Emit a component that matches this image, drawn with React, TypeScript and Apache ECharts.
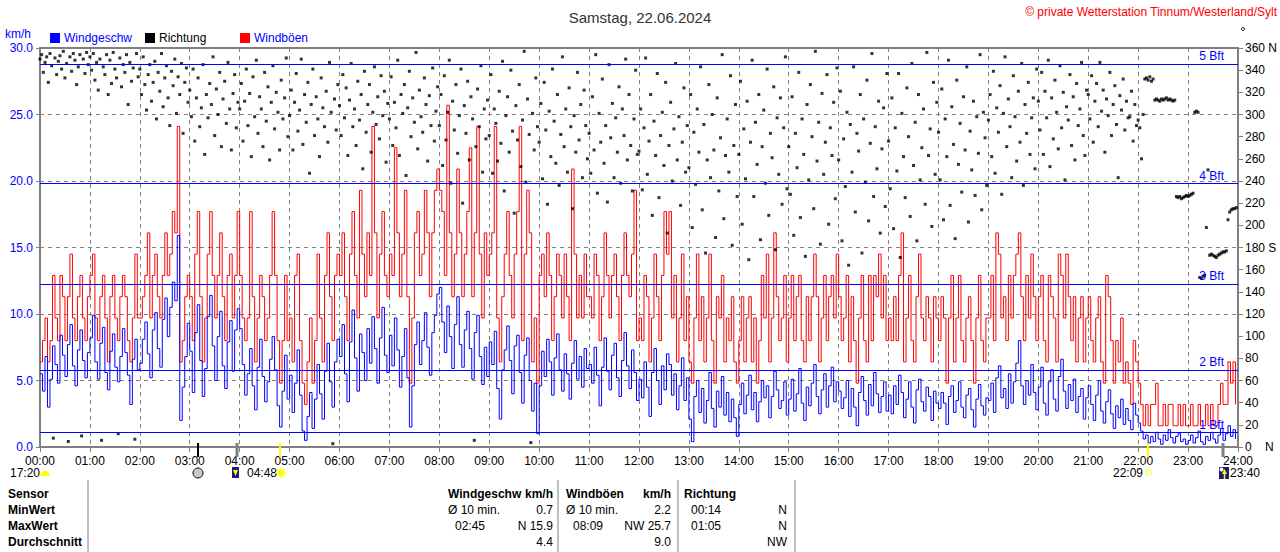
import React, { useEffect, useRef } from "react";
import * as echarts from "echarts";

// sampling step of the series (minutes)
const SPEED_STEP_MIN = 3;
const DIR_STEP_MIN = 2;

// Windgeschwindigkeit km/h (3-min samples, 20 per hour)
const speedKmh = [
  5.5,4.2,6.8,3.0,5.1,7.6,6.2,4.8,8.4,6.9,5.3,7.7,9.2,6.1,4.6,7.3,8.8,6.5,5.2,7.1,
  8.2,9.9,6.4,5.1,7.8,9.0,5.6,4.3,7.2,8.5,6.0,4.9,6.8,8.9,7.1,5.4,3.2,6.6,8.1,5.8,
  6.3,8.1,9.4,7.0,5.2,8.8,10.1,7.4,6.0,9.6,11.2,8.3,10.5,12.4,11.0,15.9,2.0,4.5,6.8,9.3,
  7.2,4.1,8.6,10.7,6.5,3.8,5.9,9.8,11.4,7.6,5.0,8.3,10.2,6.1,4.4,7.9,9.5,5.7,8.8,10.4,
  8.9,6.2,3.9,5.5,7.4,4.6,2.8,6.0,8.1,5.3,3.4,4.9,6.6,8.3,5.8,3.1,1.5,4.2,6.9,3.6,
  5.4,2.6,4.8,7.3,3.9,1.2,0.5,2.3,4.1,1.4,3.6,6.2,4.0,2.1,5.7,7.8,4.9,3.0,6.4,8.1,
  6.8,9.2,5.5,3.4,7.9,10.3,6.7,4.2,8.5,7.1,5.0,8.9,6.3,9.8,7.4,4.8,8.2,10.5,6.9,5.6,
  8.4,6.1,9.7,7.3,4.5,6.8,8.9,5.2,1.5,4.6,7.7,9.4,6.2,8.0,10.1,7.5,5.4,8.6,9.9,11.5,
  12.0,9.4,7.1,10.6,8.3,5.9,9.2,11.3,7.7,6.0,8.8,10.2,7.4,5.1,8.6,9.9,6.8,4.7,7.5,5.3,
  7.9,6.2,8.7,4.4,2.1,5.8,7.3,9.1,6.5,4.0,7.6,8.4,5.6,3.3,6.9,8.2,5.0,2.7,4.8,1.0,
  4.6,7.2,5.3,8.1,6.4,3.9,6.7,8.5,5.8,4.2,7.0,5.5,3.6,6.3,8.0,5.1,6.8,4.5,7.4,5.9,
  6.2,4.8,7.5,5.4,3.1,6.0,8.2,5.7,4.3,6.9,7.8,5.2,3.8,6.5,8.6,6.1,4.4,7.3,5.6,3.5,
  5.1,3.7,6.4,4.5,2.3,5.6,7.4,5.0,3.2,6.1,4.3,7.0,6.2,3.9,5.5,2.8,4.6,6.7,3.5,5.2,
  2.1,0.4,3.8,5.0,2.6,4.4,1.8,3.5,5.6,2.9,1.5,4.2,3.0,5.3,2.4,4.1,1.9,3.6,2.2,0.8,
  3.2,4.8,2.5,3.9,5.4,2.8,4.1,1.9,3.4,5.0,3.7,4.6,2.2,3.8,5.7,4.3,2.9,3.5,4.9,2.4,
  3.6,5.1,2.7,4.0,5.9,3.3,2.0,4.5,3.1,4.8,6.2,3.8,2.5,4.3,5.5,3.0,4.6,6.0,3.4,4.9,
  4.2,2.9,3.7,5.0,2.3,4.4,3.0,1.6,4.1,5.3,3.5,2.4,4.7,3.1,5.6,4.0,2.6,3.8,4.9,2.7,
  3.9,2.5,4.6,3.2,5.4,4.1,2.2,3.6,4.9,3.0,1.8,4.3,5.1,3.4,2.7,4.5,3.8,2.0,4.2,3.3,
  2.9,4.1,3.3,1.7,3.8,4.6,2.6,3.5,4.9,3.0,2.2,3.9,4.4,2.8,1.5,3.6,4.7,3.1,2.4,3.7,
  3.5,4.8,2.6,5.2,6.1,3.7,4.4,2.9,5.5,3.3,4.9,6.3,8.0,4.6,3.2,5.0,3.9,6.2,4.1,2.8,
  4.5,6.0,3.3,2.4,4.9,5.8,3.6,2.7,5.3,6.6,4.2,2.9,4.7,3.5,5.1,2.6,3.8,4.4,2.1,3.7,
  4.6,3.2,2.0,3.9,5.0,2.7,1.8,3.4,4.3,2.5,1.4,3.1,2.2,3.6,1.7,2.9,2.0,1.3,3.3,2.4,
  1.8,1.2,0.6,0.9,0.3,0.8,0.4,1.1,0.6,0.2,0.9,0.5,1.3,0.7,0.3,0.8,1.0,0.4,0.6,0.2,
  0.5,0.9,0.3,0.7,1.2,0.4,0.2,0.8,0.5,1.1,0.6,0.3,0.9,1.4,0.5,1.0,1.6,0.8,1.3,0.6,
];

// Windböen km/h (3-min samples)
const gustKmh = [
  6.4,8.0,9.7,6.4,8.0,12.9,9.7,8.0,12.9,11.3,8.0,11.3,14.5,9.7,8.0,11.3,12.9,9.7,8.0,11.3,
  12.9,14.5,9.7,8.0,11.3,12.9,9.7,6.4,11.3,12.9,9.7,8.0,11.3,12.9,11.3,8.0,6.4,9.7,14.5,9.7,
  9.7,11.3,12.9,16.1,9.7,12.9,14.5,11.3,9.7,12.9,16.1,12.9,14.5,17.7,16.1,24.1,6.4,8.0,11.3,12.9,
  11.3,8.0,14.5,17.7,11.3,6.4,9.7,14.5,17.7,12.9,9.7,12.9,16.1,11.3,8.0,12.9,14.5,9.7,12.9,17.7,
  12.9,9.7,8.0,9.7,17.7,11.3,6.4,9.7,12.9,11.3,8.0,9.7,12.9,17.7,12.9,8.0,4.8,8.0,12.9,8.0,
  9.7,6.4,12.9,14.5,8.0,4.8,3.2,6.4,9.7,4.8,8.0,14.5,9.7,6.4,12.9,16.1,11.3,8.0,12.9,14.5,
  12.9,16.1,11.3,8.0,14.5,17.7,12.9,9.7,19.3,14.5,11.3,16.1,12.9,24.1,16.1,9.7,14.5,17.7,12.9,11.3,
  14.5,12.9,22.5,16.1,11.3,14.5,19.3,11.3,4.8,9.7,16.1,17.7,12.9,14.5,19.3,16.1,11.3,16.1,19.3,20.9,
  19.3,17.7,12.9,25.7,16.1,11.3,14.5,20.9,16.1,11.3,14.5,17.7,22.5,11.3,16.1,24.1,14.5,9.7,16.1,12.9,
  14.5,16.1,24.1,9.7,6.4,11.3,14.5,17.7,12.9,9.7,14.5,17.7,24.1,8.0,14.5,19.3,16.1,6.4,9.7,4.8,
  12.9,14.5,11.3,16.1,12.9,8.0,11.3,14.5,12.9,9.7,14.5,11.3,8.0,20.9,14.5,9.7,12.9,9.7,14.5,11.3,
  11.3,9.7,14.5,12.9,8.0,11.3,16.1,12.9,9.7,12.9,14.5,11.3,8.0,12.9,16.1,12.9,11.3,14.5,19.3,8.0,
  9.7,8.0,12.9,11.3,6.4,9.7,14.5,11.3,8.0,12.9,17.7,14.5,17.7,9.7,12.9,6.4,9.7,14.5,8.0,11.3,
  6.4,4.8,9.7,14.5,8.0,11.3,6.4,9.7,14.5,8.0,4.8,11.3,9.7,12.9,6.4,9.7,8.0,11.3,6.4,4.8,
  8.0,11.3,6.4,9.7,11.3,6.4,9.7,4.8,8.0,12.9,9.7,14.5,6.4,9.7,16.1,11.3,8.0,9.7,12.9,6.4,
  9.7,12.9,8.0,11.3,12.9,8.0,6.4,11.3,8.0,11.3,14.5,11.3,6.4,9.7,12.9,8.0,11.3,12.9,9.7,14.5,
  11.3,8.0,9.7,12.9,6.4,11.3,8.0,4.8,9.7,12.9,8.0,6.4,12.9,8.0,12.9,11.3,14.5,9.7,12.9,8.0,
  9.7,8.0,11.3,8.0,12.9,16.1,6.4,9.7,12.9,8.0,6.4,11.3,14.5,9.7,8.0,11.3,9.7,6.4,11.3,9.7,
  8.0,11.3,9.7,4.8,9.7,12.9,6.4,9.7,12.9,8.0,6.4,9.7,11.3,8.0,4.8,9.7,12.9,8.0,6.4,9.7,
  9.7,12.9,8.0,16.1,14.5,9.7,11.3,8.0,12.9,9.7,12.9,14.5,16.1,11.3,8.0,12.9,9.7,14.5,11.3,8.0,
  11.3,12.9,8.0,6.4,12.9,11.3,9.7,6.4,14.5,12.9,9.7,14.5,11.3,8.0,11.3,6.4,9.7,11.3,6.4,9.7,
  11.3,8.0,6.4,9.7,11.3,6.4,4.8,12.9,11.3,8.0,4.8,8.0,6.4,9.7,4.8,6.4,4.8,3.2,8.0,6.4,
  4.8,3.2,1.6,3.2,1.6,3.2,3.2,4.8,1.6,1.6,3.2,1.6,3.2,3.2,1.6,1.6,3.2,1.6,3.2,1.6,
  1.6,3.2,1.6,1.6,3.2,1.6,1.6,3.2,1.6,3.2,1.6,1.6,3.2,4.8,3.2,3.2,6.4,4.8,6.4,3.2,
];

// Richtung in Grad (2-min samples, 30 per hour)
const directionDeg = [
  350,354,338,347,352,329,355,344,8,351,336,348,353,341,357,333,346,5,352,339,355,349,327,343,354,10,350,337,356,345,
  352,340,355,331,347,322,350,6,343,336,354,318,349,328,356,341,333,12,351,325,345,338,354,309,347,330,342,7,355,334,
  341,318,352,327,304,336,345,312,329,348,296,338,321,355,307,333,344,315,290,339,326,350,301,334,318,346,283,329,342,311,
  322,298,341,276,315,333,289,306,345,264,318,297,328,309,352,281,323,300,338,271,314,330,292,347,305,268,319,336,288,311,
  305,328,276,312,341,290,319,262,334,298,349,283,316,305,271,338,294,325,259,311,344,287,320,302,268,331,296,315,351,280,
  299,322,268,311,337,285,304,350,273,318,293,329,247,309,341,281,316,296,262,333,306,289,321,275,347,302,3,314,286,327,
  308,281,336,297,324,263,313,346,289,305,272,330,295,318,251,339,284,309,327,266,302,343,291,316,278,335,299,321,257,310,
  296,334,272,311,288,349,263,318,301,327,245,306,339,280,315,293,356,269,322,298,284,333,309,258,317,290,342,276,303,325,
  290,318,254,335,277,302,349,238,312,286,327,265,299,341,220,308,283,330,259,316,296,6,271,323,289,344,248,305,278,313,
  281,336,247,305,292,258,321,274,348,231,299,316,266,340,285,211,308,277,327,253,295,357,239,314,282,4,301,268,333,289,
  275,310,242,329,286,219,303,262,341,294,256,318,236,282,352,271,305,248,324,289,215,299,266,338,277,309,243,322,290,260,
  283,247,316,268,354,229,301,275,332,256,290,221,345,279,310,243,297,266,325,238,305,281,350,259,318,272,231,296,340,264,
  267,305,232,288,351,246,276,318,209,294,263,337,225,281,302,254,329,193,272,311,240,287,346,259,298,218,275,324,248,290,
  252,318,198,284,237,305,266,343,214,291,175,259,327,243,300,268,189,315,231,279,354,206,263,296,248,335,182,272,309,226,
  264,330,201,287,242,312,169,275,349,226,293,255,318,187,271,304,238,341,209,283,261,325,178,297,246,315,219,288,352,233,
  271,228,316,191,283,252,338,207,296,264,172,309,241,327,280,215,357,258,293,183,319,246,275,336,201,288,263,311,224,342,
  259,321,186,278,235,302,164,291,248,343,212,283,267,318,175,296,239,331,204,274,355,226,289,251,312,193,269,306,217,337,
  276,233,315,197,288,249,337,171,301,262,225,324,280,208,346,254,293,186,318,241,270,305,219,356,263,287,199,329,246,311,
  284,241,323,205,296,262,349,218,307,273,188,331,255,292,230,316,268,343,203,285,250,312,227,298,265,354,214,302,279,236,
  295,318,262,339,247,306,284,326,228,301,352,271,314,289,243,335,298,258,321,275,346,236,309,283,329,264,297,315,251,341,
  312,286,338,264,321,297,349,253,315,278,331,302,269,344,288,320,241,307,295,336,272,316,259,328,290,305,347,281,263,322,
  318,296,335,275,312,328,289,347,303,322,266,314,299,338,281,309,326,291,243,317,304,332,286,312,297,298,321,276,309,290,
  295,288,260,300,332,333,331,334,330,332,313,314,313,312,314,313,314,315,313,314,313,312,313,226,225,226,224,225,226,227,
  226,227,228,229,302,303,302,153,152,154,155,198,250,173,174,173,172,171,173,174,175,176,176,177,205,212,214,215,215,216,
];

const bftLevels = [1.08, 5.76, 12.24, 19.8, 28.8];
const bftLabels = ["1 Bft", "2 Bft", "3 Bft", "4 Bft", "5 Bft"];
const hourLabels = Array.from({ length: 25 }, (_, h) => String(h).padStart(2, "0") + ":00");
const dirSpecialLabels: Record<number, string> = { 360: "360 N", 180: "180 S", 0: "0    N" };

const titleText = "Samstag, 22.06.2024";
const copyrightText = "© private Wetterstation Tinnum/Westerland/Sylt";

// statistics table
const tableRowLabels = ["Sensor", "MinWert", "MaxWert", "Durchschnitt"];

const FONT = '"Liberation Sans", Arial, Helvetica, sans-serif';
const BLUE = "#0000ff";
const RED = "#ff0000";
const GRAY = "#808080";

function txt(text: string, x: number, y: number, o: any = {}) {
  return {
    type: "text",
    x,
    y,
    z: 100,
    style: {
      text,
      font: `${o.bold ? "bold " : ""}${o.size || 12}px ${FONT}`,
      fill: o.color || "#000",
      align: o.align || "left",
      verticalAlign: "middle",
    },
  };
}

function vline(x: number, y1: number, y2: number, color: string, w: number) {
  return { type: "line", z: 100, shape: { x1: x, y1, x2: x, y2 }, style: { stroke: color, lineWidth: w } };
}

export default function App() {
  const ref = useRef<HTMLDivElement>(null);

  useEffect(() => {
    if (!ref.current) return;
    const chart = echarts.init(ref.current, undefined, { renderer: "svg" });

    const rows = [494, 510, 526, 542];
    const graphic: any[] = [
      // legend
      { type: "rect", z: 100, shape: { x: 50, y: 33, width: 10, height: 10 }, style: { fill: BLUE } },
      txt("Windgeschw", 64, 38, { color: BLUE }),
      { type: "rect", z: 100, shape: { x: 145, y: 33, width: 10, height: 10 }, style: { fill: "#000" } },
      txt("Richtung", 159, 38),
      { type: "rect", z: 100, shape: { x: 240, y: 33, width: 10, height: 10 }, style: { fill: RED } },
      txt("Windböen", 254, 38, { color: BLUE }),
      txt("km/h", 5, 34, { color: BLUE }),
      txt(copyrightText, 1277, 12, { color: RED, align: "right" }),
      { type: "circle", z: 100, shape: { cx: 1243, cy: 29, r: 1.5 }, style: { fill: "none", stroke: "#000", lineWidth: 1 } },

      // astronomical markers below the time axis
      vline(198, 443, 457, "#000", 2),
      vline(237, 443, 457, GRAY, 3),
      vline(280, 443, 457, "#ffff00", 2),
      vline(1148, 443, 457, "#ffff00", 2),
      vline(1223, 443, 457, GRAY, 3),
      txt("17:20", 10, 473),
      { type: "sector", z: 100, shape: { cx: 45, cy: 476, r0: 0, r: 5, startAngle: Math.PI, endAngle: Math.PI * 2 }, style: { fill: "#ffff00" } },
      { type: "circle", z: 100, shape: { cx: 198, cy: 473, r: 5 }, style: { fill: "#c8c8c8", stroke: "#000", lineWidth: 1 } },
      { type: "rect", z: 100, shape: { x: 232, y: 467, width: 7, height: 11 }, style: { fill: "#1c1c80" } },
      { type: "polygon", z: 101, shape: { points: [[233, 470], [238, 470], [235.5, 476]] }, style: { fill: "#ffff00" } },
      txt("04:48", 247, 473),
      { type: "line", z: 100, shape: { x1: 275, y1: 473, x2: 287, y2: 473 }, style: { stroke: "#ffff00", lineWidth: 1 } },
      { type: "line", z: 100, shape: { x1: 281, y1: 467, x2: 281, y2: 479 }, style: { stroke: "#ffff00", lineWidth: 1 } },
      { type: "line", z: 100, shape: { x1: 277, y1: 469, x2: 285, y2: 477 }, style: { stroke: "#ffff00", lineWidth: 1 } },
      { type: "line", z: 100, shape: { x1: 285, y1: 469, x2: 277, y2: 477 }, style: { stroke: "#ffff00", lineWidth: 1 } },
      { type: "circle", z: 101, shape: { cx: 281, cy: 473, r: 3.5 }, style: { fill: "#ffff00" } },
      txt("22:09", 1143, 473, { align: "right" }),
      { type: "rect", z: 100, shape: { x: 1146, y: 470, width: 5, height: 5 }, style: { fill: "none", stroke: "#ffff00", lineWidth: 1 } },
      { type: "rect", z: 100, shape: { x: 1219, y: 467, width: 10, height: 12 }, style: { fill: "#1c1c80" } },
      { type: "circle", z: 101, shape: { cx: 1221.5, cy: 469.5, r: 2 }, style: { fill: "#ffffff" } },
      { type: "polygon", z: 101, shape: { points: [[1222, 474], [1227, 474], [1224.5, 469]] }, style: { fill: "#ffff00" } },
      vline(1224.5, 473, 479, "#ffff00", 1.5),
      txt("23:40", 1230, 473),

      // statistics table
      ...tableRowLabels.map((t, i) => txt(t, 8, rows[i], { bold: true })),
      vline(88, 480, 552, GRAY, 1),
      vline(558, 480, 552, GRAY, 1),
      vline(678, 480, 552, GRAY, 1),
      vline(795, 480, 552, GRAY, 1),
      txt("Windgeschw", 448, rows[0], { bold: true }),
      txt("km/h", 553, rows[0], { bold: true, align: "right" }),
      txt("Ø 10 min.", 448, rows[1]),
      txt("0.7", 553, rows[1], { align: "right" }),
      txt("02:45", 455, rows[2]),
      txt("N 15.9", 553, rows[2], { align: "right" }),
      txt("4.4", 553, rows[3], { align: "right" }),
      txt("Windböen", 566, rows[0], { bold: true }),
      txt("km/h", 671, rows[0], { bold: true, align: "right" }),
      txt("Ø 10 min.", 566, rows[1]),
      txt("2.2", 671, rows[1], { align: "right" }),
      txt("08:09", 573, rows[2]),
      txt("NW 25.7", 671, rows[2], { align: "right" }),
      txt("9.0", 671, rows[3], { align: "right" }),
      txt("Richtung", 684, rows[0], { bold: true }),
      txt("00:14", 691, rows[1]),
      txt("N", 787, rows[1], { align: "right" }),
      txt("01:05", 691, rows[2]),
      txt("N", 787, rows[2], { align: "right" }),
      txt("NW", 787, rows[3], { align: "right" }),
    ];

    const option: any = {
      animation: false,
      backgroundColor: "#ffffff",
      textStyle: { fontFamily: FONT },
      title: {
        text: titleText,
        left: "center",
        top: 5,
        textStyle: { fontSize: 15, fontWeight: "normal", color: "#333", fontFamily: FONT },
      },
      grid: { left: 40, right: 40, top: 48, bottom: 105, show: true, borderColor: GRAY, borderWidth: 2 },
      xAxis: {
        type: "value",
        min: 0,
        max: 1440,
        interval: 60,
        axisLine: { lineStyle: { color: GRAY, width: 2 } },
        axisTick: { show: true, length: 5, lineStyle: { color: GRAY } },
        axisLabel: { color: "#000", fontSize: 12, margin: 8, fontFamily: FONT, formatter: (v: number) => hourLabels[Math.round(v / 60)] },
        splitLine: { show: true, lineStyle: { color: GRAY, type: [4, 4], width: 1 } },
      },
      yAxis: [
        {
          type: "value",
          min: 0,
          max: 30,
          interval: 5,
          position: "left",
          axisLine: { show: true, lineStyle: { color: GRAY, width: 2 } },
          axisTick: { show: true, length: 4, lineStyle: { color: GRAY } },
          axisLabel: { color: BLUE, fontSize: 12, margin: 7, fontFamily: FONT, formatter: (v: number) => v.toFixed(1) },
          splitLine: { show: true, lineStyle: { color: GRAY, type: [4, 4], width: 1 } },
        },
        {
          type: "value",
          min: 0,
          max: 360,
          interval: 20,
          position: "right",
          axisLine: { show: true, lineStyle: { color: GRAY, width: 2 } },
          axisTick: { show: true, length: 5, lineStyle: { color: GRAY } },
          axisLabel: {
            color: "#000",
            fontSize: 12,
            margin: 7,
            fontFamily: FONT,
            formatter: (v: number) => dirSpecialLabels[v] ?? String(v),
          },
          splitLine: { show: false },
        },
      ],
      series: [
        {
          name: "Windböen",
          type: "line",
          step: "end",
          yAxisIndex: 0,
          symbol: "none",
          lineStyle: { color: RED, width: 1 },
          itemStyle: { color: RED },
          z: 2,
          data: gustKmh.map((v, i) => [i * SPEED_STEP_MIN, v]),
        },
        {
          name: "Windgeschw",
          type: "line",
          step: "end",
          yAxisIndex: 0,
          symbol: "none",
          lineStyle: { color: BLUE, width: 1 },
          itemStyle: { color: BLUE },
          z: 3,
          data: speedKmh.map((v, i) => [i * SPEED_STEP_MIN, v]),
          markLine: {
            silent: true,
            symbol: ["none", "none"],
            lineStyle: { color: BLUE, width: 1, type: "solid" },
            label: {
              show: true,
              position: "insideEndTop",
              color: BLUE,
              fontSize: 12,
              fontFamily: FONT,
              distance: [14, 2],
              formatter: (p: any) => p.name,
            },
            data: bftLevels.map((v, i) => ({ yAxis: v, name: bftLabels[i] })),
          },
        },
        {
          name: "Richtung",
          type: "scatter",
          yAxisIndex: 1,
          symbol: "rect",
          symbolSize: 3,
          itemStyle: { color: "#000" },
          z: 4,
          data: directionDeg.map((v, i) => [i * DIR_STEP_MIN, v]),
        },
      ],
      graphic,
    };

    chart.setOption(option);
    return () => chart.dispose();
  }, []);

  return (
    <div
      ref={ref}
      style={{ position: "absolute", left: 0, top: 0, width: 1280, height: 552, background: "#fff" }}
    />
  );
}
